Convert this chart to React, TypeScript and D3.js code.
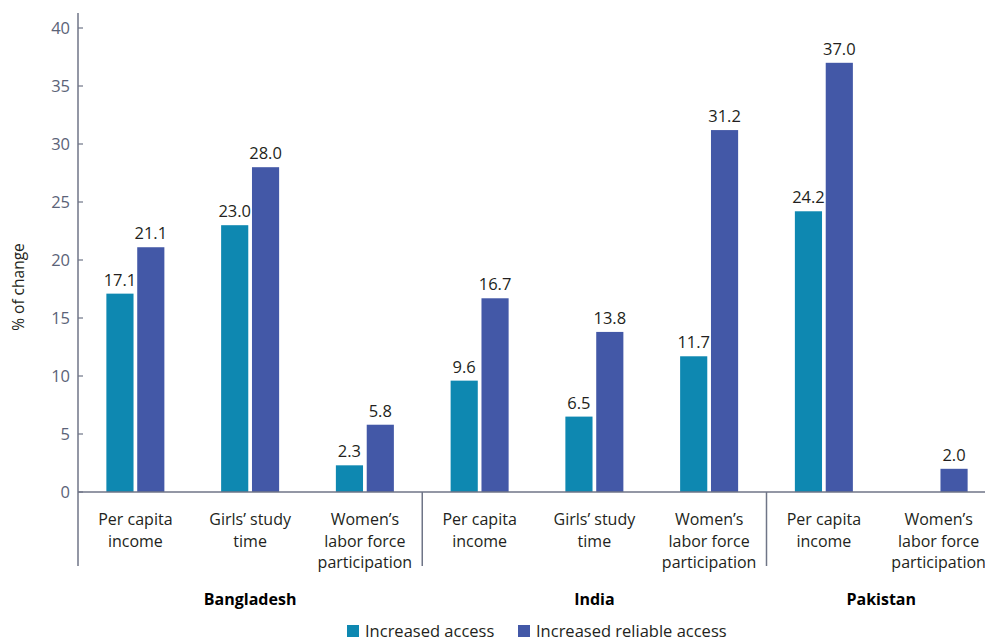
import * as d3 from "d3";

const countries = ["Bangladesh", "India", "Pakistan"];
const categoryCountry = ["Bangladesh", "Bangladesh", "Bangladesh", "India", "India", "India", "Pakistan", "Pakistan"];
const categoryLines = [
  ["Per capita", "income"],
  ["Girls’ study", "time"],
  ["Women’s", "labor force", "participation"],
  ["Per capita", "income"],
  ["Girls’ study", "time"],
  ["Women’s", "labor force", "participation"],
  ["Per capita", "income"],
  ["Women’s", "labor force", "participation"],
];
const increasedAccess: (number | null)[] = [17.1, 23.0, 2.3, 9.6, 6.5, 11.7, 24.2, null];
const reliableAccess: (number | null)[] = [21.1, 28.0, 5.8, 16.7, 13.8, 31.2, 37.0, 2.0];
const seriesNames = ["Increased access", "Increased reliable access"];
const seriesColors = ["#0e88b1", "#4358a7"];
const yTicks = [0, 5, 10, 15, 20, 25, 30, 35, 40];

const W = 985;
const H = 643;
const FONT = "'Open Sans', 'DejaVu Sans', sans-serif";

export default function App() {
  const x = d3.scaleBand<number>().domain(d3.range(categoryLines.length)).range([78, 996]);
  const y = d3.scaleLinear().domain([0, 40]).range([492, 28]);
  const inner = d3.scaleBand<number>().domain([0, 1]).range([-29, 29]).paddingInner(0.12);
  const series = [increasedAccess, reliableAccess];

  // group extents
  const groups = countries.map((c) => {
    const idx = categoryCountry.map((cc, i) => (cc === c ? i : -1)).filter((i) => i >= 0);
    const x0 = x(idx[0])!;
    const x1 = Math.min(x(idx[idx.length - 1])! + x.bandwidth(), 998);
    return { c, x0, x1 };
  });

  return (
    <svg
      width={W}
      height={H}
      style={{ position: "absolute", left: 0, top: 0, background: "#fff" }}
      fontFamily={FONT}
    >
      {/* y axis */}
      <line x1={78} x2={78} y1={13} y2={566} stroke="#6f7587" strokeWidth={1.5} />
      {yTicks.map((t) => (
        <g key={t}>
          <line x1={78} x2={83} y1={y(t)} y2={y(t)} stroke="#6f7587" strokeWidth={1.2} />
          <text x={70} y={y(t)} dy="0.35em" textAnchor="end" fontSize={16.5} fill="#5b6378">
            {t}
          </text>
        </g>
      ))}
      <text
        transform={`translate(24,287) rotate(-90)`}
        textAnchor="middle"
        fontSize={15.5}
        fill="#231f20"
      >
        % of change
      </text>

      {/* bars */}
      {series.map((vals, s) =>
        vals.map((v, i) =>
          v == null ? null : (
            <g key={`${s}-${i}`}>
              <rect
                x={x(i)! + x.bandwidth() / 2 + inner(s)!}
                y={y(v)}
                width={inner.bandwidth()}
                height={y(0) - y(v)}
                fill={seriesColors[s]}
              />
              <text
                x={x(i)! + x.bandwidth() / 2 + inner(s)! + inner.bandwidth() / 2}
                y={y(v) - 8}
                textAnchor="middle"
                fontSize={16.5}
                fill="#231f20"
              >
                {v.toFixed(1)}
              </text>
            </g>
          )
        )
      )}

      {/* baseline */}
      <line x1={78} x2={W} y1={y(0)} y2={y(0)} stroke="#6f7587" strokeWidth={1.5} />

      {/* group separators */}
      {groups.slice(1).map((g) => (
        <line key={g.c} x1={g.x0} x2={g.x0} y1={y(0)} y2={566} stroke="#6f7587" strokeWidth={1.5} />
      ))}

      {/* category labels */}
      {categoryLines.map((lines, i) => (
        <text
          key={i}
          x={x(i)! + x.bandwidth() / 2}
          y={525}
          textAnchor="middle"
          fontSize={16}
          fill="#231f20"
        >
          {lines.map((l, k) => (
            <tspan key={k} x={x(i)! + x.bandwidth() / 2} dy={k === 0 ? 0 : 21.5}>
              {l}
            </tspan>
          ))}
        </text>
      ))}

      {/* country labels */}
      {groups.map((g) => (
        <text
          key={g.c}
          x={(g.x0 + g.x1) / 2}
          y={605}
          textAnchor="middle"
          fontSize={16}
          fontWeight="bold"
          fill="#000"
        >
          {g.c}
        </text>
      ))}

      {/* legend */}
      {seriesNames.map((n, s) => {
        const lx = s === 0 ? 347 : 518;
        return (
          <g key={n}>
            <rect x={lx} y={625} width={12} height={12} fill={seriesColors[s]} />
            <text x={lx + 18} y={637} fontSize={16.5} fill="#231f20">
              {n}
            </text>
          </g>
        );
      })}
    </svg>
  );
}
